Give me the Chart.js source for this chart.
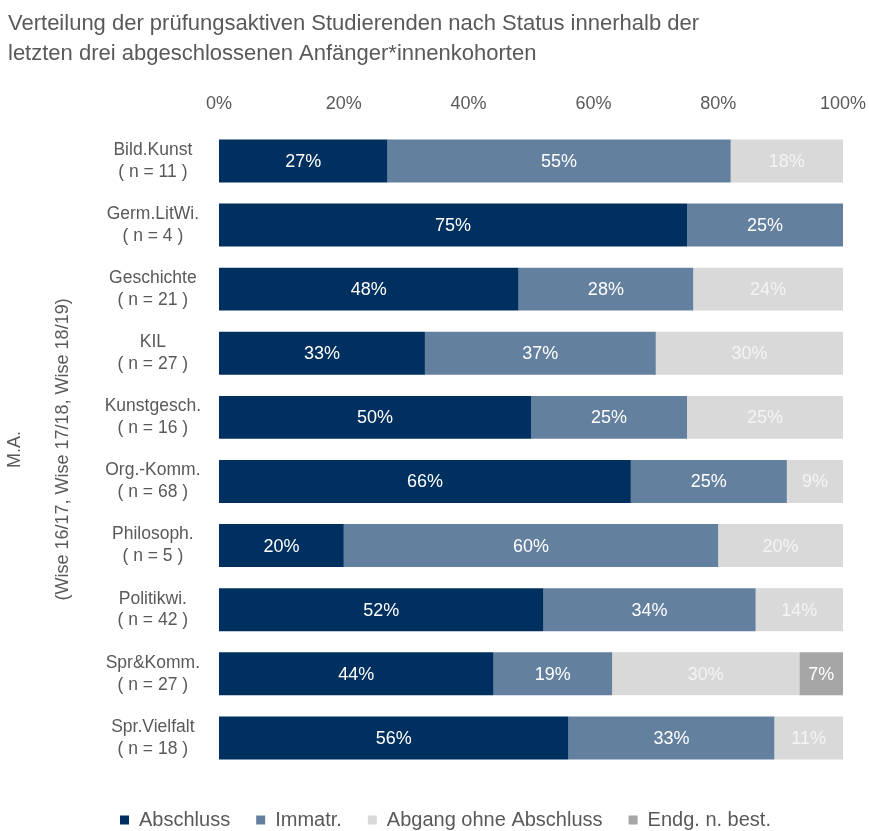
<!DOCTYPE html>
<html>
<head>
<meta charset="utf-8">
<script src="https://cdn.jsdelivr.net/npm/chart.js@4"></script>
<style>
  html, body { margin: 0; padding: 0; background: #fff; overflow: hidden; }
  #wrap { width: 869px; height: 831px; }
</style>
</head>
<body>
<div id="wrap"><canvas id="chStatus"></canvas></div>
<script>
"use strict";

const studiengaenge = ['Bild.Kunst', 'Germ.LitWi.', 'Geschichte', 'KIL', 'Kunstgesch.', 'Org.-Komm.', 'Philosoph.', 'Politikwi.', 'Spr&Komm.', 'Spr.Vielfalt'];
const anzahl = [11, 4, 21, 27, 16, 68, 5, 42, 27, 18];

const abschluss = [27, 75, 48, 33, 50, 66, 20, 52, 44, 56];
const immatr = [55, 25, 28, 37, 25, 25, 60, 34, 19, 33];
const abgang = [18, 0, 24, 30, 25, 9, 20, 14, 30, 11];
const endgNBest = [0, 0, 0, 0, 0, 0, 0, 0, 7, 0];

const tickWerte = [0, 20, 40, 60, 80, 100];

const FONT = "'Liberation Sans', Arial, sans-serif";
const GRAU = '#595959';

Chart.defaults.font.family = FONT;
Chart.defaults.color = GRAU;

// Prozentwerte mittig in die Balken schreiben
const wertLabels = {
  id: 'wertLabels',
  afterDatasetsDraw(chart) {
    const ctx = chart.ctx;
    ctx.save();
    ctx.font = "18px " + FONT;
    ctx.textAlign = 'center';
    ctx.textBaseline = 'middle';
    chart.data.datasets.forEach((ds, i) => {
      const meta = chart.getDatasetMeta(i);
      meta.data.forEach((bar, j) => {
        const v = ds.data[j];
        if (!v) return;
        const p = bar.getCenterPoint();
        ctx.fillStyle = ds.labelColor;
        ctx.fillText(v + '%', p.x, p.y + 1);
      });
    });
    ctx.restore();
  }
};

// Legende etwas nach rechts ruecken
const legendeVersatz = {
  id: 'legendeVersatz',
  afterLayout(chart) {
    if (chart.legend) chart.legend.left += 40;
  }
};

const labels = studiengaenge.map((s, i) => [s, '( n = ' + anzahl[i] + ' )']);

const daten = {
  labels: labels,
  datasets: [
    { label: 'Abschluss', data: abschluss, backgroundColor: '#00305f', labelColor: '#ffffff' },
    { label: 'Immatr.', data: immatr, backgroundColor: '#64809f', labelColor: '#ffffff' },
    { label: 'Abgang ohne Abschluss', data: abgang, backgroundColor: '#d9d9d9', labelColor: '#f4f4f4' },
    { label: 'Endg. n. best.', data: endgNBest, backgroundColor: '#a6a6a6', labelColor: '#ffffff' }
  ]
};

new Chart(document.getElementById('chStatus'), {
  type: 'bar',
  data: daten,
  plugins: [wertLabels, legendeVersatz],
  options: {
    indexAxis: 'y',
    responsive: true,
    maintainAspectRatio: false,
    animation: false,
    datasets: { bar: { categoryPercentage: 1, barPercentage: 0.67, borderWidth: 0 } },
    layout: { padding: { left: 8, right: 26, top: 0, bottom: -9 } },
    scales: {
      x: {
        position: 'top',
        stacked: true,
        min: 0,
        max: 100,
        grid: { display: false, drawTicks: false },
        border: { display: false },
        afterBuildTicks: s => { s.ticks = tickWerte.map(v => ({ value: v })); },
        afterFit: s => { s.height = 52; s.paddingLeft = 0; s.paddingRight = 0; },
        ticks: {
          padding: 14,
          font: { size: 18 },
          color: GRAU,
          callback: v => v + '%'
        }
      },
      y: {
        stacked: true,
        grid: { display: false, drawTicks: false },
        border: { display: false },
        afterFit: s => { s.width = 211; },
        ticks: {
          crossAlign: 'center',
          padding: 18,
          font: { size: 17.5, lineHeight: 1.25 },
          color: GRAU
        },
        title: {
          display: true,
          text: ['M.A.', '', '(Wise 16/17, Wise 17/18, Wise 18/19)'],
          font: { size: 18, lineHeight: 1.333 },
          color: GRAU,
          padding: { top: -5, bottom: 0 }
        }
      }
    },
    plugins: {
      title: {
        display: true,
        align: 'start',
        text: ['Verteilung der prüfungsaktiven Studierenden nach Status innerhalb der', 'letzten drei abgeschlossenen Anfänger*innenkohorten'],
        font: { size: 22, weight: 'normal', lineHeight: 1.36 },
        color: GRAU,
        padding: { top: 9, bottom: 8 }
      },
      legend: {
        position: 'bottom',
        title: { display: true, text: ' ', font: { size: 14, lineHeight: 1 }, padding: 0 },
        labels: {
          boxWidth: 9,
          boxHeight: 9,
          padding: 26,
          font: { size: 20 },
          color: GRAU
        }
      },
      tooltip: { enabled: false }
    }
  }
});
</script>
</body>
</html>
